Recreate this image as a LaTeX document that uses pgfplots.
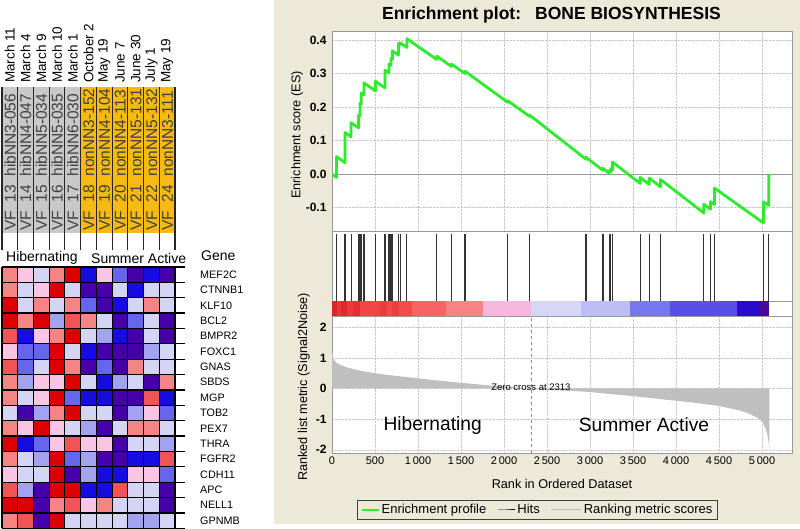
\documentclass[border=0pt]{standalone}
\usepackage{fontspec}
\setmainfont{Liberation Sans}
\usepackage{pgfplots}
\pgfplotsset{compat=1.18}
\usepackage{pgfplotstable}

\definecolor{bgbeige}{RGB}{236,233,216}
\definecolor{esgreen}{RGB}{45,235,45}
\definecolor{hdgray}{RGB}{200,200,200}
\definecolor{hdyel}{RGB}{246,186,18}
% heatmap colours
\definecolor{hr}{RGB}{220,0,0}
\definecolor{hs}{RGB}{240,84,84}
\definecolor{ht}{RGB}{245,132,132}
\definecolor{hp}{RGB}{248,198,228}
\definecolor{hl}{RGB}{212,212,244}
\definecolor{ha}{RGB}{162,162,240}
\definecolor{hm}{RGB}{102,102,236}
\definecolor{hb}{RGB}{22,12,224}
\definecolor{hu}{RGB}{70,0,170}
% colour bar
\definecolor{c01}{RGB}{220,38,38}
\definecolor{c02}{RGB}{230,54,54}
\definecolor{c03}{RGB}{221,42,42}
\definecolor{c04}{RGB}{234,58,58}
\definecolor{c05}{RGB}{228,48,48}
\definecolor{c06}{RGB}{240,70,70}
\definecolor{c07}{RGB}{234,60,60}
\definecolor{c08}{RGB}{242,74,74}
\definecolor{c09}{RGB}{235,62,62}
\definecolor{c10}{RGB}{242,76,76}
\definecolor{c11}{RGB}{248,100,100}
\definecolor{c12}{RGB}{249,130,130}
\definecolor{c13}{RGB}{249,182,222}
\definecolor{c14}{RGB}{214,214,249}
\definecolor{c15}{RGB}{190,190,247}
\definecolor{c16}{RGB}{118,118,240}
\definecolor{c17}{RGB}{90,78,230}
\definecolor{c18}{RGB}{42,10,204}
\definecolor{c19}{RGB}{72,8,154}

\newcommand{\seg}[3]{\addplot[fill=#3, draw=none] coordinates {(#1,0) (#2,0) (#2,1) (#1,1)};}

\pgfplotsset{
  gsea/.style={scale only axis, xmin=0, xmax=5349,
    axis background/.style={fill=white}, axis line style={draw=black!40},
    tick style={draw=none}, /pgf/number format/assume math mode=true},
}

\begin{document}
\begin{tikzpicture}
\begin{scope}[x=1pt,y=1pt]
\fill[white] (0,0) rectangle (800,529);
\fill[bgbeige] (274,5) rectangle (800,529);
\node[font=\fontsize{17.5}{17.5}\bfseries\selectfont, inner sep=0] at (551.5,514) {Enrichment plot:\hspace{0.8em}BONE BIOSYNTHESIS};
\end{scope}

% ---------------- ES panel
\begin{axis}[gsea, at={(332pt,297.3pt)}, anchor=south west, width=460pt, height=200.7pt,
  ymin=-0.172, ymax=0.427,
  xtick={500,1000,...,5000}, xticklabels={},
  ytick={-0.1,0,0.1,0.2,0.3,0.4},
  yticklabel style={font=\fontsize{12}{12}\bfseries\selectfont, xshift=-2pt,
    /pgf/number format/fixed, /pgf/number format/fixed zerofill, /pgf/number format/precision=1},
  grid=major, major grid style={densely dotted, black!22},
  ylabel={Enrichment score (ES)},
  ylabel style={at={(axis description cs:-0.076,0.482)}, anchor=center, font=\fontsize{12.7}{12.7}\selectfont}]
\draw[black!40, line width=0.8pt] (axis cs:0,0) -- (axis cs:5349,0);
\addplot[esgreen, line width=2.8pt, line join=round] coordinates {
(0,0) (53,-0.010) (53,0.052) (151,0.034) (151,0.124) (222,0.111) (222,0.153)
(309,0.138) (309,0.176) (325,0.173) (325,0.211) (340,0.208) (340,0.242)
(372,0.236) (372,0.272) (506,0.248) (506,0.277) (616,0.257) (616,0.310)
(663,0.302) (663,0.328) (686,0.324) (686,0.345) (702,0.342) (702,0.368)
(773,0.355) (773,0.390) (793,0.386) (793,0.392) (871,0.378) (871,0.404)
(1217,0.342) (1217,0.352) (1390,0.321) (1390,0.328) (1547,0.300) (1547,0.307)
(2043,0.214) (2043,0.219) (2298,0.172) (2298,0.176) (2954,0.044) (2954,0.050)
(3151,0.011) (3151,0.017) (3222,0.003) (3222,0.010) (3241,0.006) (3241,0.016)
(3261,0.012) (3261,0.036) (3583,-0.028) (3583,-0.010) (3690,-0.031) (3690,-0.012)
(3819,-0.038) (3819,-0.016) (4323,-0.116) (4323,-0.090) (4401,-0.105) (4401,-0.082)
(4448,-0.091) (4448,-0.042) (5018,-0.146) (5018,-0.083) (5077,-0.094) (5080,0.000)};
\end{axis}

% ---------------- hits panel
\begin{axis}[gsea, at={(332pt,228pt)}, anchor=south west, width=460pt, height=69.3pt,
  ymin=0, ymax=1, xtick=\empty, ytick=\empty]
\addplot[ycomb, black!80, line width=1.1pt] coordinates {
(53,0.96) (151,0.96) (222,0.96) (309,0.96) (325,0.96) (340,0.96) (372,0.96)
(506,0.96) (616,0.96) (663,0.96) (686,0.96) (702,0.96) (773,0.96) (793,0.96)
(871,0.96) (1217,0.96) (1390,0.96) (1547,0.96) (2043,0.96) (2298,0.96)
(2954,0.96) (3151,0.96) (3222,0.96) (3241,0.96) (3261,0.96) (3583,0.96)
(3690,0.96) (3819,0.96) (4323,0.96) (4401,0.96) (4448,0.96) (5018,0.96) (5077,0.96)};
\end{axis}

% ---------------- colour bar
\begin{axis}[gsea, at={(332pt,212.3pt)}, anchor=south west, width=460pt, height=15.7pt,
  ymin=0, ymax=1, xtick=\empty, ytick=\empty]
\seg{0}{60}{c01}\seg{60}{110}{c02}\seg{110}{170}{c03}\seg{170}{240}{c04}
\seg{240}{320}{c05}\seg{320}{560}{c06}\seg{560}{640}{c07}\seg{640}{700}{c08}
\seg{700}{780}{c09}\seg{780}{930}{c10}\seg{930}{1320}{c11}\seg{1320}{1760}{c12}
\seg{1760}{2310}{c13}\seg{2310}{2900}{c14}\seg{2900}{3460}{c15}\seg{3460}{3930}{c16}
\seg{3930}{4713}{c17}\seg{4713}{4977}{c18}\seg{4977}{5085}{c19}
\end{axis}

% ---------------- ranking metric
\begin{axis}[gsea, at={(332pt,75.5pt)}, anchor=south west, width=460pt, height=136.8pt,
  ymin=-2.124, ymax=2.346,
  xtick={0,500,...,5000}, ytick={-2,-1,0,1,2},
  x tick label style={font=\fontsize{11}{11}\selectfont, /pgf/number format/1000 sep={\,}},
  y tick label style={font=\fontsize{12}{12}\bfseries\selectfont, xshift=-2pt},
  grid=major, major grid style={densely dotted, black!22},
  xlabel={Rank in Ordered Dataset},
  xlabel style={at={(axis description cs:0.5,0)}, anchor=center, yshift=-30.5pt, font=\fontsize{12.7}{12.7}\selectfont},
  ylabel={Ranked list metric (Signal2Noise)},
  ylabel style={at={(axis description cs:-0.0613,0.486)}, anchor=center, font=\fontsize{12.7}{12.7}\selectfont},
  legend columns=3,
  legend style={at={(0.4467,-0.413)}, anchor=center, draw=black!75, fill=none,
    font=\fontsize{13}{13}\selectfont, inner xsep=3pt, inner ysep=2pt,
    /tikz/every even column/.append style={column sep=9pt}},
  legend cell align=left]
\addlegendimage{esgreen, line width=2pt}\addlegendentry{Enrichment profile}
\addlegendimage{black, line width=1pt}\addlegendentry{Hits}
\addlegendimage{legend image code/.code={\draw[black!28, line width=1pt] (0pt,0pt) -- (30pt,0pt);}}\addlegendentry{Ranking metric scores}
\addplot[fill=black!25, draw=none, forget plot] coordinates {
(0,0) (0,1.22) (8,1.10) (15,1.00) (30,0.92) (47,0.86) (75,0.80) (105,0.76)
(163,0.70) (250,0.63) (350,0.57) (473,0.51) (600,0.46) (750,0.41) (977,0.34)
(1200,0.27) (1481,0.19) (1791,0.11) (2050,0.05) (2313,0)};
\addplot[fill=black!25, draw=none, forget plot] coordinates {
(2313,0) (2419,-0.03) (2700,-0.07) (2980,-0.11) (3200,-0.17) (3465,-0.24)
(3700,-0.31) (3930,-0.38) (4200,-0.46) (4500,-0.57) (4744,-0.72) (4850,-0.82)
(4938,-0.95) (5000,-1.08) (5016,-1.15) (5040,-1.30) (5054,-1.40) (5070,-1.60)
(5080,-1.80) (5085,-1.96) (5085,0)};
\draw[dashed, black!45, line width=0.8pt] (axis cs:2313,-2.124) -- (axis cs:2313,2.346);
\node[font=\fontsize{9.5}{9.5}\selectfont, inner sep=0] at (axis cs:2313,0.05) {Zero cross at 2313};
\node[font=\fontsize{19.2}{19.2}\selectfont, inner sep=0] at (axis cs:1171,-1.225) {Hibernating};
\node[font=\fontsize{19.2}{19.2}\selectfont, inner sep=0] at (axis cs:3628,-1.19) {Summer Active};
\end{axis}

% ---------------- heatmap
\begin{axis}[at={(2pt,0.7pt)}, anchor=south west, scale only axis, width=173pt, height=261.3pt,
  xmin=0.5, xmax=11.5, ymin=0.5, ymax=17.5, y dir=reverse, axis lines=none,
  every mark/.append style={yscale=0.977}]
\addplot[scatter, only marks, mark=square*, mark size=7.87pt, point meta=explicit symbolic,
  scatter/classes={
    r={mark=square*, draw=hr, fill=hr}, s={mark=square*, draw=hs, fill=hs},
    t={mark=square*, draw=ht, fill=ht}, p={mark=square*, draw=hp, fill=hp},
    l={mark=square*, draw=hl, fill=hl}, a={mark=square*, draw=ha, fill=ha},
    m={mark=square*, draw=hm, fill=hm}, b={mark=square*, draw=hb, fill=hb},
    u={mark=square*, draw=hu, fill=hu}}]
table[row sep=\\, meta=c] {
x y c\\
1 1 t\\ 2 1 p\\ 3 1 l\\ 4 1 t\\ 5 1 r\\ 6 1 b\\ 7 1 p\\ 8 1 m\\ 9 1 u\\ 10 1 b\\ 11 1 u\\
1 2 t\\ 2 2 l\\ 3 2 p\\ 4 2 r\\ 5 2 l\\ 6 2 u\\ 7 2 u\\ 8 2 l\\ 9 2 b\\ 10 2 l\\ 11 2 l\\
1 3 r\\ 2 3 l\\ 3 3 t\\ 4 3 l\\ 5 3 t\\ 6 3 m\\ 7 3 u\\ 8 3 b\\ 9 3 l\\ 10 3 t\\ 11 3 l\\
1 4 r\\ 2 4 t\\ 3 4 r\\ 4 4 a\\ 5 4 s\\ 6 4 t\\ 7 4 l\\ 8 4 u\\ 9 4 m\\ 10 4 l\\ 11 4 u\\
1 5 s\\ 2 5 b\\ 3 5 p\\ 4 5 t\\ 5 5 r\\ 6 5 l\\ 7 5 a\\ 8 5 b\\ 9 5 u\\ 10 5 l\\ 11 5 u\\
1 6 p\\ 2 6 m\\ 3 6 m\\ 4 6 r\\ 5 6 l\\ 6 6 b\\ 7 6 u\\ 8 6 u\\ 9 6 u\\ 10 6 a\\ 11 6 l\\
1 7 s\\ 2 7 m\\ 3 7 l\\ 4 7 r\\ 5 7 t\\ 6 7 u\\ 7 7 m\\ 8 7 u\\ 9 7 t\\ 10 7 l\\ 11 7 l\\
1 8 t\\ 2 8 a\\ 3 8 p\\ 4 8 p\\ 5 8 r\\ 6 8 l\\ 7 8 b\\ 8 8 a\\ 9 8 l\\ 10 8 u\\ 11 8 t\\
1 9 t\\ 2 9 l\\ 3 9 p\\ 4 9 r\\ 5 9 m\\ 6 9 b\\ 7 9 b\\ 8 9 u\\ 9 9 u\\ 10 9 s\\ 11 9 b\\
1 10 l\\ 2 10 u\\ 3 10 a\\ 4 10 t\\ 5 10 r\\ 6 10 l\\ 7 10 l\\ 8 10 u\\ 9 10 a\\ 10 10 p\\ 11 10 m\\
1 11 t\\ 2 11 p\\ 3 11 r\\ 4 11 p\\ 5 11 l\\ 6 11 a\\ 7 11 u\\ 8 11 l\\ 9 11 t\\ 10 11 t\\ 11 11 l\\
1 12 r\\ 2 12 b\\ 3 12 m\\ 4 12 p\\ 5 12 s\\ 6 12 p\\ 7 12 p\\ 8 12 u\\ 9 12 l\\ 10 12 l\\ 11 12 a\\
1 13 t\\ 2 13 l\\ 3 13 a\\ 4 13 r\\ 5 13 m\\ 6 13 a\\ 7 13 u\\ 8 13 u\\ 9 13 b\\ 10 13 b\\ 11 13 s\\
1 14 p\\ 2 14 l\\ 3 14 l\\ 4 14 r\\ 5 14 u\\ 6 14 a\\ 7 14 b\\ 8 14 b\\ 9 14 p\\ 10 14 p\\ 11 14 m\\
1 15 s\\ 2 15 a\\ 3 15 u\\ 4 15 r\\ 5 15 r\\ 6 15 b\\ 7 15 b\\ 8 15 s\\ 9 15 l\\ 10 15 l\\ 11 15 u\\
1 16 r\\ 2 16 r\\ 3 16 u\\ 4 16 t\\ 5 16 s\\ 6 16 p\\ 7 16 t\\ 8 16 l\\ 9 16 l\\ 10 16 l\\ 11 16 u\\
1 17 t\\ 2 17 s\\ 3 17 u\\ 4 17 r\\ 5 17 l\\ 6 17 l\\ 7 17 l\\ 8 17 l\\ 9 17 a\\ 10 17 a\\ 11 17 l\\
};
\end{axis}

\begin{scope}[x=1pt,y=1pt]
% heatmap grid
\foreach \k in {0,...,17} \draw[line width=1.3pt] (2,{262-15.37*\k}) -- (185,{262-15.37*\k});
\foreach \j in {0,...,11} \draw[line width=1.1pt] ({2+15.73*\j},0.7) -- ({2+15.73*\j},262);

% header boxes
\foreach \j in {0,...,4} \fill[hdgray] ({2+15.73*\j},296) rectangle +(15.73,146);
\foreach \j in {5,...,10} \fill[hdyel] ({2+15.73*\j},296) rectangle +(15.73,146);
\foreach \t [count=\i] in {VF\_13\_hibNN3-056,VF\_14\_hibNN4-047,VF\_15\_hibNN5-034,VF\_16\_hibNN5-035,VF\_17\_hibNN6-030,VF\_18\_nonNN3-152,VF\_19\_nonNN4-104,VF\_20\_nonNN4-113,VF\_21\_nonNN5-131,VF\_22\_nonNN5-132,VF\_24\_nonNN3-111}{
  \begin{scope}
  \clip ({2+15.73*(\i-1)},296) rectangle +(15.73,146);
  \node[rotate=90, anchor=base west, inner sep=0, text=black!75, font=\fontsize{15.5}{15.5}\selectfont] at ({2+15.73*(\i-1)+13.5},298) {\t};
  \end{scope}
}
\foreach \j in {0,...,11} \draw[line width=1.1pt, black!85] ({2+15.73*\j},279) -- ({2+15.73*\j},442);

% dates
\foreach \d [count=\i] in {March 11,March 4,March 9,March 10,March 1,October 2,May 19,June 7,June 30,July 1,May 19}
  \node[rotate=90, anchor=west, inner sep=0, font=\fontsize{13.5}{13.5}\selectfont] at ({2+15.73*(\i-0.5)},446) {\d};

% group labels
\node[anchor=west, inner sep=0, font=\fontsize{14}{14}\selectfont] at (6,270.7) {Hibernating};
\node[anchor=west, inner sep=0, font=\fontsize{14}{14}\selectfont] at (91,270.7) {Summer Active};
\node[anchor=west, inner sep=0, font=\fontsize{14}{14}\selectfont] at (201,273) {Gene};

% gene names
\foreach \g [count=\i] in {MEF2C,CTNNB1,KLF10,BCL2,BMPR2,FOXC1,GNAS,SBDS,MGP,TOB2,PEX7,THRA,FGFR2,CDH11,APC,NELL1,GPNMB}
  \node[anchor=west, inner sep=0, font=\fontsize{10.8}{10.8}\selectfont] at (200,{262-15.37*(\i-0.5)}) {\g};
\end{scope}
\end{tikzpicture}
\end{document}
